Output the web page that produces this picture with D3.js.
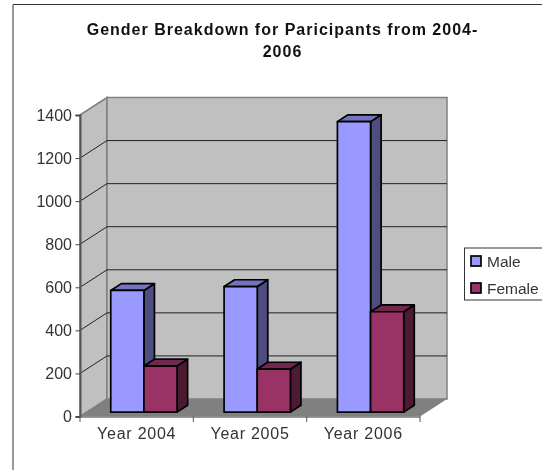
<!DOCTYPE html>
<html><head><meta charset="utf-8">
<script src="https://cdn.jsdelivr.net/npm/d3@7"></script>
<style>html,body{margin:0;padding:0;background:#fff}svg{display:block;filter:blur(.4px)}text{font-family:"Liberation Sans",Arial,sans-serif}</style>
</head><body><svg id="c" width="542" height="470"></svg>
<script>
const categories=["Year 2004","Year 2005","Year 2006"];
const seriesNames=["Male","Female"];
const male=[565,583,1349];
const female=[214,200,466];
const yTicks=[0,200,400,600,800,1000,1200,1400];
const titleLines=["Gender Breakdown for Paricipants from 2004-","2006"];

const svg=d3.select("#c");
const x=d3.scaleBand().domain(categories).range([80,420]).paddingInner(0).paddingOuter(0);
const inner=d3.scaleBand().domain(seriesNames).range([24,x.bandwidth()-23]);
const y=d3.scaleLinear().domain([0,1400]).range([416.5,115]);
const dx=d3.scaleLinear().domain([0,1]).range([0,27]);
const dy=d3.scaleLinear().domain([0,1]).range([0,-17.5]);
const path=p=>d3.line()(p)+"Z";
const color={Male:{f:"#9999ff",s:"#4d4d80",t:"#7373bf"},Female:{f:"#993366",s:"#4d1a33",t:"#732650"}};

// frame
svg.append("path").attr("d","M13,470V4.5H542").attr("fill","none").attr("stroke","#333").attr("stroke-width",1);

// title
svg.append("g").selectAll("text").data(titleLines).join("text")
 .attr("x",282.5).attr("y",(d,i)=>35+i*21.5).attr("text-anchor","middle")
 .attr("font-size",16).attr("font-weight","bold").attr("letter-spacing",1).attr("fill","#111").text(d=>d);

const [X0,X1]=x.range(), Y0=y(0), Y1=y(1400), DX=dx(1), DY=dy(1);
// walls
svg.append("path").attr("d",path([[X0,Y0],[X0,Y1],[X0+DX,Y1+DY],[X0+DX,Y0+DY]])).attr("fill","#c0c0c0").attr("stroke","#808080").attr("stroke-width",1.5);
svg.append("path").attr("d",path([[X0+DX,Y0+DY],[X0+DX,Y1+DY],[X1+DX,Y1+DY],[X1+DX,Y0+DY]])).attr("fill","#c0c0c0").attr("stroke","#808080").attr("stroke-width",1.5);
// grid
svg.append("g").selectAll("path").data(yTicks.slice(1,-1)).join("path")
 .attr("d",v=>d3.line()([[X0,y(v)],[X0+DX,y(v)+DY],[X1+DX,y(v)+DY]]))
 .attr("fill","none").attr("stroke","#222").attr("stroke-width",1);
// floor
svg.append("path").attr("d",path([[X0,Y0],[X1,Y0],[X1+DX,Y0+DY],[X0+DX,Y0+DY]])).attr("fill","#808080");

// axes
const ya=d3.axisLeft(y).tickValues(yTicks).tickSize(4.5).tickPadding(3.5).tickFormat(d3.format("d"));
const yg=svg.append("g").attr("transform",`translate(${X0},0)`).call(ya);
const xa=d3.axisBottom(x).tickSize(0).tickPadding(11);
const xg=svg.append("g").attr("transform",`translate(0,${Y0})`).call(xa);
for(const g of [yg,xg]){g.selectAll("text").attr("font-size",16).attr("font-family",'"Liberation Sans",Arial,sans-serif').attr("fill","#333");
 g.selectAll("line").attr("stroke","#444");}
xg.selectAll("text").attr("letter-spacing",.75);
yg.select(".domain").attr("stroke","#555").attr("stroke-width",2);
xg.select(".domain").attr("stroke","#777").attr("stroke-width",1.5);
// category boundary ticks on x axis
svg.append("g").selectAll("line").data([...categories.map(c=>x(c)),X1]).join("line")
 .attr("x1",d=>d).attr("x2",d=>d).attr("y1",Y0).attr("y2",Y0+5.5).attr("stroke","#555").attr("stroke-width",1);

// bars
const d0=.25,d1=.64;
const data=[];
seriesNames.forEach((s,si)=>{categories.forEach((c,i)=>{data.push({s,c,v:[male,female][si][i]});});});
const bars=svg.append("g").selectAll("g").data(data).join("g")
 .attr("stroke","#000").attr("stroke-width",1.7).attr("stroke-linejoin","round");
bars.each(function(d){
 const g=d3.select(this);
 const l=x(d.c)+inner(d.s)+dx(d0), r=l+inner.bandwidth();
 const b=y(0)+dy(d0), t=y(d.v)+dy(d0);
 const ox=dx(d1-d0), oy=dy(d1-d0);
 g.append("path").attr("fill",color[d.s].s).attr("d",path([[r,b],[r,t],[r+ox,t+oy],[r+ox,b+oy]]));
 g.append("path").attr("fill",color[d.s].t).attr("d",path([[l,t],[r,t],[r+ox,t+oy],[l+ox,t+oy]]));
 g.append("rect").attr("fill",color[d.s].f).attr("x",l).attr("y",t).attr("width",r-l).attr("height",b-t);
});

// legend
svg.append("rect").attr("x",464.5).attr("y",248).attr("width",90).attr("height",52).attr("fill","#fff").attr("stroke","#333").attr("stroke-width",1);
const lg=svg.append("g").selectAll("g").data(seriesNames).join("g").attr("transform",(d,i)=>`translate(0,${261+i*27})`);
lg.append("rect").attr("x",471).attr("y",-5).attr("width",10).attr("height",10).attr("fill",d=>color[d].f).attr("stroke","#000").attr("stroke-width",1.7);
lg.append("text").attr("x",487).attr("y",5.5).attr("font-size",15.5).attr("fill","#333").text(d=>d);
</script></body></html>
